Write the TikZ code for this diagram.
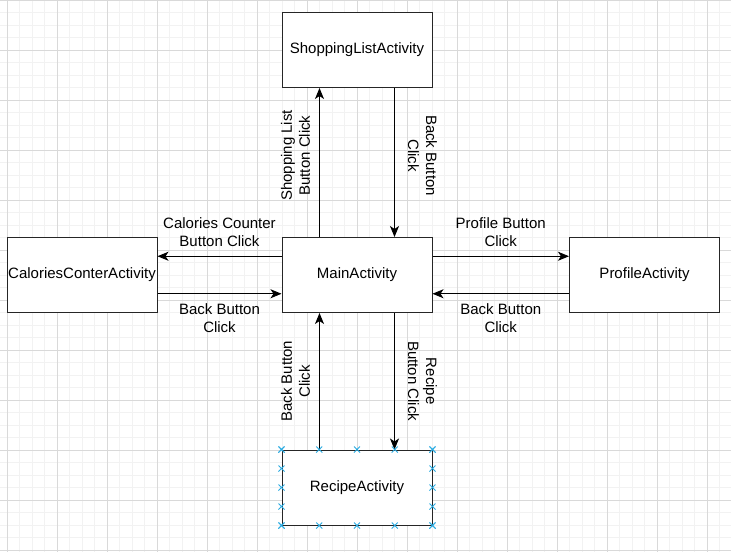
\documentclass[tikz,border=0pt]{standalone}
\usepackage{fontspec}
\setmainfont{Liberation Sans}
\usetikzlibrary{arrows.meta,calc}
\definecolor{selblue}{RGB}{41,171,226}
\tikzset{
  activity/.style={draw=black!85,line width=1pt,fill=white,minimum width=150pt,minimum height=75pt,inner sep=0pt},
  flow/.style={line width=0.9pt,-{Stealth[length=11pt,width=9pt,inset=3pt]}},
  lbl/.style={align=center,inner sep=9pt},
  selmark/.style={selblue,line width=0.9pt},
}
\begin{document}
\begin{tikzpicture}[x=1pt,y=-1pt,font=\fontsize{15pt}{18pt}\selectfont]
	\useasboundingbox (0,0) rectangle (731,552);
	\fill[white] (0,0) rectangle (731,552);
	% grid
	\foreach\x in{-5.5,7,...,731}{\draw[black!5,line width=0.8pt] (\x,0) -- (\x,552);}
	\foreach\y in{0,12.5,...,552}{\draw[black!5,line width=0.8pt] (0,\y) -- (731,\y);}
	\foreach\x in{7,57,...,731}{\draw[black!15,line width=0.8pt] (\x,0) -- (\x,552);}
	\foreach\y in{0,50,...,552}{\draw[black!15,line width=0.8pt] (0,\y) -- (731,\y);}
	% activities
	\node[activity] (main) at (357,275) {MainActivity};
	\node[activity] (shop) at (357,50) {ShoppingListActivity};
	\node[activity] (cal) at (82,275) {CaloriesConterActivity};
	\node[activity] (prof) at (644.5,275) {ProfileActivity};
	\node[activity] (recipe) at (357,487.5) {RecipeActivity};
	% transitions
	\draw[flow] ([xshift=-37.5pt]main.north) -- node[lbl,rotate=90,above,pos=0.547] {Shopping List\\Button Click} ([xshift=-37.5pt]shop.south);
	\draw[flow] ([xshift=37.5pt]shop.south) -- node[lbl,rotate=-90,above,pos=0.453,inner sep=13pt] {Back Button\\Click} ([xshift=37.5pt]main.north);
	\draw[flow] ([yshift=18.75pt]main.west) -- node[lbl,above] {Calories Counter\\Button Click} ([yshift=18.75pt]cal.east);
	\draw[flow] ([yshift=-18.75pt]cal.east) -- node[lbl,below] {Back Button\\Click} ([yshift=-18.75pt]main.west);
	\draw[flow] ([yshift=18.75pt]main.east) -- node[lbl,above] {Profile Button\\Click} ([yshift=18.75pt]prof.west);
	\draw[flow] ([yshift=-18.75pt]prof.west) -- node[lbl,below] {Back Button\\Click} ([yshift=-18.75pt]main.east);
	\draw[flow] ([xshift=-37.5pt]recipe.north) -- node[lbl,rotate=90,above] {Back Button\\Click} ([xshift=-37.5pt]main.south);
	\draw[flow] ([xshift=37.5pt]main.south) -- node[lbl,rotate=-90,above,inner sep=13pt] {Recipe\\Button Click} ([xshift=37.5pt]recipe.north);
	% selection marks
	\foreach\p in{0,0.25,...,1}{
		\draw[selmark] ($(recipe.north west)!\p!(recipe.north east)$) +(-3,-3) -- +(3,3) +(-3,3) -- +(3,-3);
		\draw[selmark] ($(recipe.south west)!\p!(recipe.south east)$) +(-3,-3) -- +(3,3) +(-3,3) -- +(3,-3);
		\draw[selmark] ($(recipe.north west)!\p!(recipe.south west)$) +(-3,-3) -- +(3,3) +(-3,3) -- +(3,-3);
		\draw[selmark] ($(recipe.north east)!\p!(recipe.south east)$) +(-3,-3) -- +(3,3) +(-3,3) -- +(3,-3);
	}
\end{tikzpicture}
\end{document}
